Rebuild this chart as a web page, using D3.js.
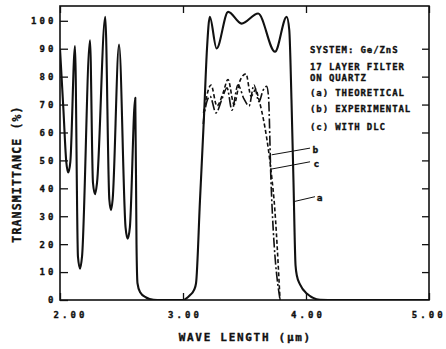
<!DOCTYPE html>
<html><head><meta charset="utf-8">
<script src="https://cdn.jsdelivr.net/npm/d3@7"></script>
<style>body{margin:0;background:#fff}svg{display:block}</style>
</head><body><svg id="chart" width="446" height="349"></svg>
<script>
// ---- data ----
const xTicks = [2, 3, 4, 5];
const xTickLabels = ["2.00", "3.00", "4.00", "5.00"];
const yTicks = [0, 10, 20, 30, 40, 50, 60, 70, 80, 90, 100];
const yRightTicks = [10, 20, 30, 40, 50, 60, 70, 80, 90];

// (a) theoretical
const waveA = [2.000, 2.028, 2.051, 2.067, 2.084, 2.122, 2.146, 2.163, 2.179, 2.244, 2.268, 2.285, 2.301, 2.368,
  2.401, 2.415, 2.428, 2.480, 2.533, 2.550, 2.568, 2.612, 2.622, 2.630, 2.650, 2.700, 2.760, 2.820,
  3.000, 3.056, 3.089, 3.106, 3.138, 3.171, 3.195, 3.218, 3.273, 3.367, 3.476, 3.611, 3.748, 3.843,
  3.864, 3.882, 3.898, 3.915, 3.927, 3.951, 4.006, 4.114, 4.240, 5.000];
const transA = [90, 68, 49.5, 45.7, 49.5, 91, 15.5, 11.2, 15.5, 93, 42, 37.9, 42, 101.4,
  36, 32.2, 36, 91.5, 26, 22, 26, 72.4, 20, 6, 2.9, 0.9, 0.1, 0,
  0, 1.7, 3.5, 6, 35.7, 66, 90, 101.4, 90.1, 103.2, 99, 102.6, 88.9, 101.4,
  96.7, 71.6, 42.9, 12.4, 8.5, 5.6, 2.3, 0.1, 0, 0];

// (b) experimental
const waveB = [3.167, 3.179, 3.228, 3.276, 3.325, 3.366, 3.415, 3.463, 3.512, 3.553, 3.593, 3.610, 3.724, 3.740, 3.789];
const transB = [67, 70, 77, 69.5, 74, 79, 70, 78.5, 81, 73, 75.5, 73, 43, 36, 0];

// (c) with DLC
const waveC = [3.165, 3.171, 3.220, 3.268, 3.317, 3.358, 3.398, 3.447, 3.496, 3.537, 3.577, 3.618, 3.650, 3.680, 3.695, 3.715, 3.789];
const transC = [63, 66, 73, 67, 72, 76, 68, 77, 72, 69.5, 77, 71, 75, 76.5, 73, 43, 0];

const legendLines = ["SYSTEM: Ge/ZnS", "17 LAYER FILTER", "ON QUARTZ", "(a) THEORETICAL", "(b) EXPERIMENTAL", "(c) WITH DLC"];
const xTitle = "WAVE LENGTH (\u03BCm)";
const yTitle = "TRANSMITTANCE (%)";

// ---- layout ----
const W = 446, H = 349;
const m = {l: 60, r: 17, t: 6, b: 49};
const iw = W - m.l - m.r, ih = H - m.t - m.b;
const MONO = "'DejaVu Sans Mono', monospace";
const INK = "#111";

const svg = d3.select("#chart");
svg.append("rect").attr("width", W).attr("height", H).attr("fill", "#fff");
const g = svg.append("g").attr("transform", `translate(${m.l},${m.t})`);

const x = d3.scaleLinear().domain([2, 5]).range([0, iw]);
const y = d3.scaleLinear().domain([0, 105.3]).range([ih, 0]);

g.append("clipPath").attr("id", "clip").append("rect").attr("width", iw).attr("height", ih);

const line = d3.line().x(d => x(d[0])).y(d => y(d[1])).curve(d3.curveMonotoneX);
const zip = (a, b) => a.map((v, i) => [v, b[i]]);

const plot = g.append("g").attr("clip-path", "url(#clip)");
plot.append("path").datum(zip(waveA, transA)).attr("d", line)
  .attr("fill", "none").attr("stroke", INK).attr("stroke-width", 2.1).attr("stroke-linejoin", "round");
plot.append("path").datum(zip(waveB, transB)).attr("d", line)
  .attr("fill", "none").attr("stroke", INK).attr("stroke-width", 1.6).attr("stroke-dasharray", "4,2.5");
plot.append("path").datum(zip(waveC, transC)).attr("d", line)
  .attr("fill", "none").attr("stroke", INK).attr("stroke-width", 1.6).attr("stroke-dasharray", "10,2.5,2,2.5");

// heavier "plotter" text
function ink(sel) {
  return sel.attr("fill", INK).attr("stroke", INK).attr("stroke-width", 0.35)
    .attr("font-family", MONO).attr("font-weight", "bold");
}

// ---- axes ----
function styleAxis(sel) {
  sel.select(".domain").remove();
  sel.selectAll(".tick line").attr("stroke", INK).attr("stroke-width", 1.3);
  ink(sel.selectAll("text")).attr("font-size", 9).attr("letter-spacing", "3.1px");
}

const xb = g.append("g").attr("transform", `translate(0,${ih})`)
  .call(d3.axisBottom(x).tickValues(xTicks).tickSize(-7).tickPadding(12)
    .tickFormat((d, i) => xTickLabels[i]));
styleAxis(xb);
xb.selectAll("text").attr("dx", (d, i) => i === 0 ? 10 : (i === 3 ? -0.8 : 1.5));

const xt = g.append("g").call(d3.axisTop(x).tickValues(xTicks).tickSize(-7).tickFormat(""));
styleAxis(xt);

const yl = g.append("g").call(d3.axisLeft(y).tickValues(yTicks).tickSize(-8).tickPadding(3.5).tickFormat(d3.format("d")));
styleAxis(yl);

const yr = g.append("g").attr("transform", `translate(${iw},0)`)
  .call(d3.axisRight(y).tickValues(yRightTicks).tickSize(-7).tickFormat(""));
styleAxis(yr);

// frame
g.append("rect").attr("width", iw).attr("height", ih)
  .attr("fill", "none").attr("stroke", INK).attr("stroke-width", 1.6);

// ---- titles ----
ink(svg.append("text")).attr("x", m.l + iw / 2 + 0.8).attr("y", 340.7)
  .attr("text-anchor", "middle").attr("font-size", 11).attr("letter-spacing", "1.7px").text(xTitle);

ink(svg.append("text")).attr("transform", "translate(20.7,174) rotate(-90)")
  .attr("text-anchor", "middle").attr("font-size", 11.5).attr("letter-spacing", "1.15px").text(yTitle);

// ---- legend text ----
const legendBase = [53.3, 70, 80.6, 96, 111.7, 130];
ink(svg.append("g").selectAll("text").data(legendLines).join("text"))
  .attr("x", 310).attr("y", (d, i) => legendBase[i])
  .attr("font-size", 9).attr("letter-spacing", "0.9px").text(d => d);

// ---- curve labels with leader lines (data coords) ----
const notes = [
  {t: "b", from: [3.721, 52.0], to: [4.033, 54.4], at: [4.053, 52.8]},
  {t: "c", from: [3.707, 46.8], to: [4.033, 49.5], at: [4.061, 47.6]},
  {t: "a", from: [3.897, 35.2], to: [4.073, 37.0], at: [4.088, 35.6]}
];
const ng = g.append("g");
ng.selectAll("line").data(notes).join("line")
  .attr("x1", d => x(d.from[0])).attr("y1", d => y(d.from[1]))
  .attr("x2", d => x(d.to[0])).attr("y2", d => y(d.to[1]))
  .attr("stroke", INK).attr("stroke-width", 1);
ink(ng.selectAll("text").data(notes).join("text"))
  .attr("x", d => x(d.at[0])).attr("y", d => y(d.at[1]))
  .attr("font-size", 9.5).text(d => d.t);
</script></body></html>
